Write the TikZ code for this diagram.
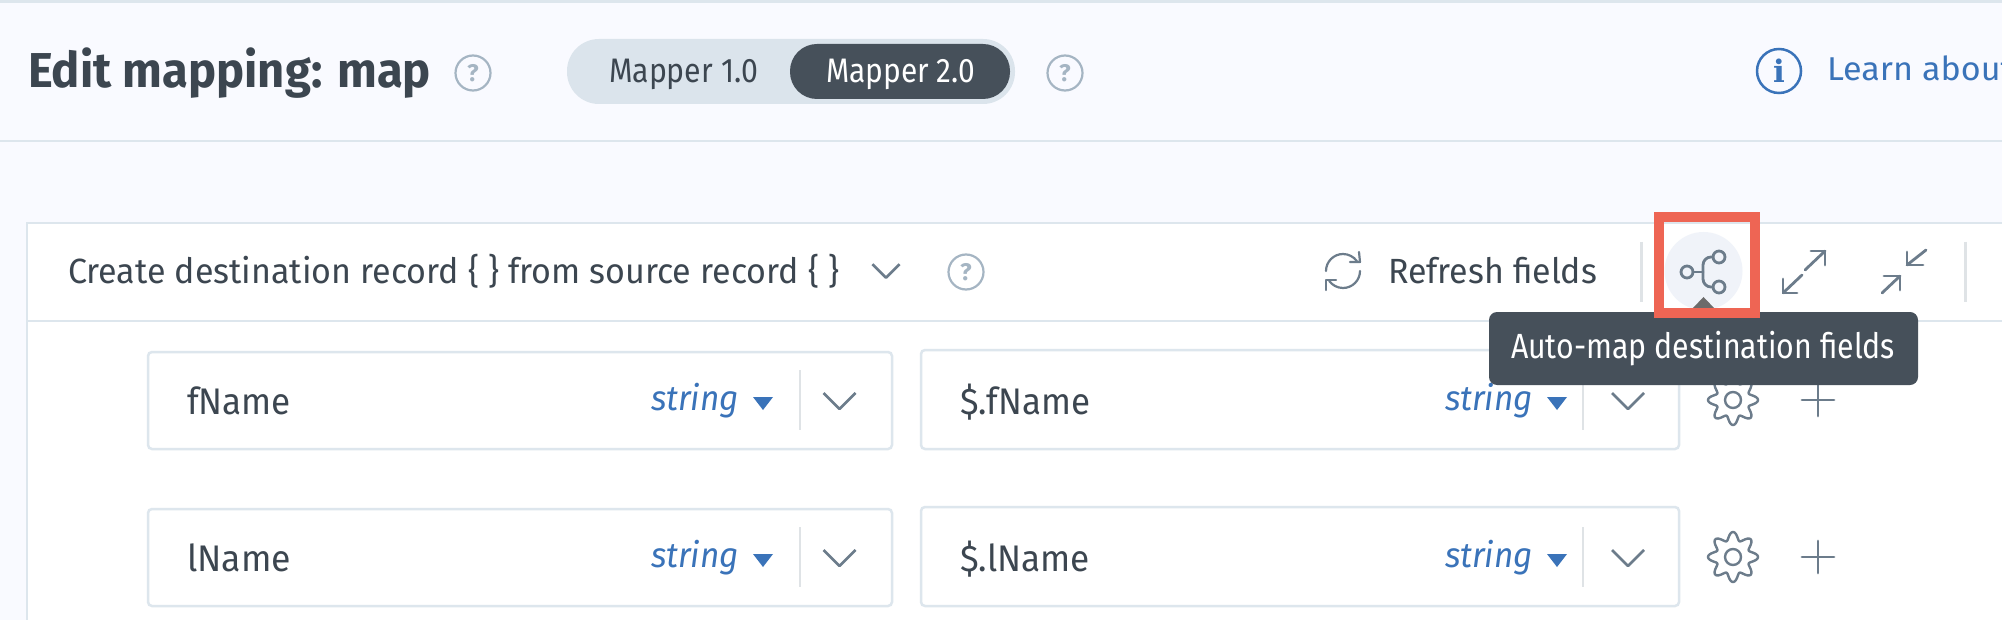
\documentclass[tikz,border=0pt]{standalone}
\usepackage{fontspec}
\usepackage{graphicx}
\setmainfont{Fira Sans}
\newfontfamily\iconfont{DejaVu Serif}
\definecolor{bgpage}{HTML}{F9FAFF}
\definecolor{linec}{HTML}{DDE6ED}
\definecolor{pillc}{HTML}{DBE4EC}
\definecolor{darkc}{HTML}{46505A}
\definecolor{inkc}{HTML}{3C4650}
\definecolor{bluec}{HTML}{3A73B9}
\definecolor{iconc}{HTML}{6C7C8B}
\definecolor{helpc}{HTML}{A5B5C3}
\definecolor{redc}{HTML}{EE6554}
\definecolor{hoverc}{HTML}{F0F3F9}
\definecolor{sepc}{HTML}{DFE3E6}
\newsavebox{\fitbox}
\newcommand{\fitw}[2]{\sbox{\fitbox}{#2}\pgfmathsetmacro{\fitr}{#1/\the\wd\fitbox}\scalebox{\fitr}[1]{\usebox{\fitbox}}}
\tikzset{
  x=1pt,y=-1pt,
  label text/.style={anchor=base west,inner sep=0pt,outer sep=0pt,text=inkc},
  rule line/.style={draw=linec,line width=2.5pt},
  icon line/.style={draw=iconc,line width=2.8pt,line cap=round,line join=round},
  field box/.style={draw=linec,fill=white,line width=2.5pt,rounded corners=4pt},
  row sep line/.style={draw=sepc,line width=1.5pt},
  pics/helpmark/.style={code={
    \draw[draw=helpc,line width=2.2pt,fill=none] (0,0) circle[radius=17.5];
    \node[inner sep=0pt,text=helpc,font=\fontsize{24}{24}\selectfont\bfseries] {?};
  }},
  pics/gearmark/.style={code={
    \draw[icon line,line width=2.4pt,smooth] plot[domain=0:360,samples=161] ({(21+4*cos(8*\x))*cos(\x)},{(21+4*cos(8*\x))*sin(\x)}) -- cycle;
    \draw[icon line,line width=2.4pt] (0,0) circle[radius=8];
  }},
  pics/plusmark/.style={code={
    \draw[icon line] (-16,0) -- (16,0);
    \draw[icon line] (0,-16) -- (0,16);
  }},
  pics/chevronmark/.style={code={
    \draw[icon line,line cap=butt,line width=2.6pt] (-16,-8) -- (0,8) -- (16,-8);
  }}
}
\newcommand{\stringtag}[3]{% x of text, row y, name
  \node[label text,text=bluec,font=\fontsize{35}{35}\selectfont\itshape] (#3s) at (#1,#2+10) {\fitw{88}{string}};
  \fill[bluec] (#1+102,#2-3) -- (#1+122,#2-3) -- (#1+112,#2+10) -- cycle;
}
\begin{document}
\begin{tikzpicture}
\useasboundingbox (0,0) rectangle (2002,620);
\fill[bgpage] (0,0) rectangle (2002,620);
\fill[linec] (0,0) rectangle (2002,3);
\draw[rule line] (0,141) -- (2002,141);

% header
\node[label text,font=\fontsize{49}{49}\selectfont\bfseries] (title) at (28,88) {\fitw{403}{Edit mapping: map}};
\pic at (473,73) {helpmark};
\fill[pillc,rounded corners=32pt] (567,39) rectangle (1015,104);
\fill[darkc,rounded corners=27pt] (790,44) rectangle (1010,99);
\node[label text,font=\fontsize{34}{34}\selectfont] (m1) at (609,82.5) {\fitw{149}{Mapper 1.0}};
\node[label text,text=white,font=\fontsize{34}{34}\selectfont] (m2) at (826,82.5) {\fitw{149}{Mapper 2.0}};
\pic at (1065,73) {helpmark};
\draw[draw=bluec,line width=2.5pt] (1779,71) circle[radius=22];
\node[inner sep=0pt,text=bluec,font=\fontsize{31}{31}\selectfont\iconfont\bfseries] (inf) at (1779,71) {i};
\node[label text,text=bluec,font=\fontsize{33}{33}\selectfont] (learn) at (1827,81) {\fitw{186}{Learn about}};

% panel
\fill[white] (27,223) rectangle (2002,620);
\draw[rule line] (27,620) -- (27,223) -- (2002,223);
\draw[rule line] (27,321) -- (2002,321);
\node[label text,font=\fontsize{35}{35}\selectfont] (create) at (68,283.5) {\fitw{771}{Create destination record \{ \} from source record \{ \}}};
\pic[scale=.85] at (886,271) {chevronmark};
\pic at (966,272) {helpmark};

% refresh
\draw[icon line,line width=2.2pt] (1343,271) ++(180:17) arc[start angle=180,end angle=325,radius=17];
\draw[icon line,line width=2.2pt] (1343,271) ++(0:17) arc[start angle=0,end angle=145,radius=17];
\draw[icon line,line width=2.2pt] (1359,252) -- (1360,262) -- (1350,262);
\draw[icon line,line width=2.2pt] (1326,290) -- (1326,280) -- (1336,280);
\node[label text,font=\fontsize{35}{35}\selectfont] (refresh) at (1388,283.5) {\fitw{209}{Refresh fields}};
\draw[draw=sepc,line width=3pt] (1641,242) -- (1641,302);
\draw[draw=sepc,line width=3pt] (1965,242) -- (1965,302);

% auto-map icon
\fill[hoverc] (1703.5,271) circle[radius=39];
\draw[icon line] (1687,272) circle[radius=6];
\draw[icon line] (1719,257) circle[radius=6];
\draw[icon line] (1719,287) circle[radius=6];
\draw[icon line,rounded corners=8pt] (1713,257) -- (1703,257) -- (1703,287) -- (1713,287);
\draw[icon line] (1693,272) -- (1703,272);

% expand
\draw[icon line] (1805,270) -- (1825,251);
\draw[icon line] (1811,251) -- (1825,251) -- (1825,265);
\draw[icon line] (1802,275) -- (1783,293);
\draw[icon line] (1797,293) -- (1783,293) -- (1783,279);
% collapse
\draw[icon line] (1926,250) -- (1907,265);
\draw[icon line] (1907,252) -- (1907,265) -- (1923,265);
\draw[icon line] (1882,293) -- (1900,276);
\draw[icon line] (1884,276) -- (1900,276) -- (1900,290);

% rows
\foreach \ry/\lft/\rgt/\rn in {400/fName/\$.fName/a,557/lName/\$.lName/b}{
  \draw[field box] (148,\ry-48) rectangle (892,\ry+49);
  \draw[field box] (921,\ry-50) rectangle (1679,\ry+49);
  \node[label text,font=\fontsize{37}{37}\selectfont] (\rn l) at (187,\ry+14.5) {\fitw{104}{\lft}};
  \node[label text,font=\fontsize{37}{37}\selectfont] (\rn r) at (960,\ry+14.5) {\fitw{130}{\rgt}};
  \stringtag{651}{\ry}{\rn x}
  \stringtag{1445}{\ry}{\rn y}
  \draw[row sep line] (800,\ry-30) -- (800,\ry+30);
  \draw[row sep line] (1583,\ry-30) -- (1583,\ry+30);
  \pic at (839.5,\ry+1) {chevronmark};
  \pic at (1628,\ry+1) {chevronmark};
  \pic at (1733,\ry) {gearmark};
  \pic at (1818,\ry) {plusmark};
}

% tooltip
\fill[darkc,rounded corners=8pt] (1489,312) rectangle (1918,385);
\node[label text,text=white,font=\fontsize{35}{35}\selectfont] (tip) at (1511,358) {\fitw{384}{Auto-map destination fields}};
\fill[black!58] (1703.5,297) -- (1715,309) -- (1692,309) -- cycle;

% highlight
\draw[draw=redc,line width=10pt] (1659,217) rectangle (1755,313);
\end{tikzpicture}
\end{document}
